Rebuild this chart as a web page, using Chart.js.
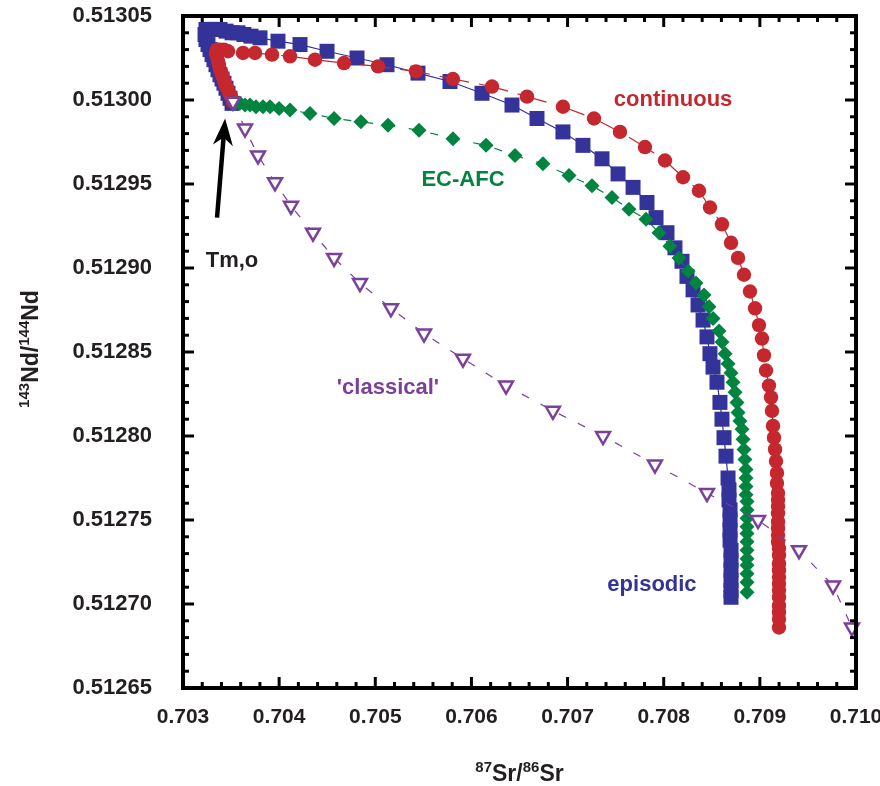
<!DOCTYPE html>
<html>
<head>
<meta charset="utf-8">
<script src="https://cdn.jsdelivr.net/npm/chart.js@4.4.1/dist/chart.umd.min.js"></script>
<style>
html,body{margin:0;padding:0;background:#ffffff;}
canvas{display:block;}
</style>
</head>
<body>
<canvas id="c" width="880" height="786"></canvas>
<script>
// ---------------- DATA ----------------
const xTickValues = [0.703, 0.704, 0.705, 0.706, 0.707, 0.708, 0.709, 0.710];
const yTickValues = [0.51265, 0.51270, 0.51275, 0.51280, 0.51285, 0.51290, 0.51295, 0.51300, 0.51305];

// continuous (red circles)
const continuousSr = [0.70352,0.70350,0.70348,0.70346,0.70344,0.70343,0.70341,0.70340,0.703385,0.703374,0.703364,0.703354,0.703343,0.703354,0.703385,0.703426,0.703468,
  0.703624,0.703749,0.703926,0.704113,0.704373,0.704675,0.705028,0.705423,0.705808,0.706214,0.706578,0.706952,0.707275,0.707545,0.707805,0.708013,0.708201,0.708367,
  0.708481,0.708606,0.708700,0.708773,0.708835,0.708897,0.708950,0.708991,0.709022,0.709043,0.709064,0.709095,0.709116,0.709126,0.709137,0.709147,0.709158,0.709168,
  0.709178,0.709178,0.709189,0.709189,0.709189,0.709189,0.709189,0.709189,0.709189,0.709189,0.709199,0.709199,0.709199,0.709199,0.709199,0.709199,0.709199,0.709199,
  0.709199,0.709199,0.709199,0.709199];
const continuousNd = [0.512999,0.513002,0.513004,0.513007,0.513009,0.513011,0.513014,0.513016,0.513018,0.513021,0.513023,0.513026,0.513028,0.513030,0.513030,0.513030,0.513029,
  0.513028,0.513028,0.513027,0.513026,0.513024,0.513022,0.513020,0.513017,0.5130125,0.513008,0.513002,0.512996,0.512989,0.512981,0.512972,0.512964,0.512954,0.512946,
  0.512936,0.512926,0.512915,0.512906,0.512896,0.512886,0.512876,0.512866,0.512858,0.512848,0.512839,0.512830,0.512823,0.512815,0.512806,0.512799,0.512792,0.512785,
  0.512778,0.512772,0.512766,0.512762,0.512758,0.512754,0.512749,0.512745,0.512741,0.512737,0.512733,0.512729,0.512724,0.512720,0.512716,0.512712,0.512708,0.512704,
  0.512699,0.512695,0.512691,0.512686];

// episodic (blue squares)
const episodicSr = [0.703510,0.703489,0.703468,0.703447,0.703426,0.703406,0.703385,0.703364,0.703343,0.703322,0.703302,0.703281,0.703260,0.703239,0.703229,0.703239,
  0.703281,0.703333,0.703385,0.703447,0.703510,0.703572,0.703634,0.703707,0.703801,0.703988,0.704217,0.704498,0.704810,0.705122,0.705444,0.705777,0.706110,0.706422,
  0.706682,0.706952,0.707160,0.707358,0.707525,0.707681,0.707826,0.707920,0.708034,0.708117,0.708190,0.708242,0.708305,0.708357,0.708409,0.708450,0.708481,0.708513,
  0.708554,0.708585,0.708606,0.708627,0.708648,0.708669,0.708679,0.708679,0.708690,0.708690,0.708690,0.708690,0.708700,0.708700,0.708700,0.708700,0.708700,0.708700];
const episodicNd = [0.512998,0.513001,0.513004,0.513007,0.513010,0.5130125,0.513015,0.513018,0.513021,0.513024,0.513027,0.513030,0.513033,0.513036,0.513039,0.513042,
  0.513042,0.513042,0.513042,0.513041,0.513040,0.513040,0.513039,0.513038,0.513037,0.513035,0.513033,0.513029,0.513025,0.513021,0.513016,0.513011,0.513004,0.512997,
  0.512989,0.512981,0.512973,0.512965,0.512956,0.512948,0.512939,0.512930,0.512921,0.512912,0.512904,0.512895,0.512887,0.512878,0.512869,0.512859,0.512849,0.512841,
  0.512832,0.512820,0.512810,0.512799,0.512788,0.512775,0.512768,0.512762,0.512756,0.512750,0.512744,0.512738,0.512732,0.512726,0.512720,0.512714,0.512708,0.512704];

// EC-AFC (green diamonds)
const ecafcSr = [0.703541,0.703593,0.703645,0.703697,0.703759,0.703832,0.703905,0.703999,0.704113,0.704321,0.704571,0.704851,0.705132,0.705455,0.705808,0.706152,
  0.706453,0.706744,0.707015,0.707254,0.707462,0.707639,0.707816,0.707951,0.708065,0.708159,0.708253,0.708336,0.708419,0.708471,0.708513,0.708575,0.708606,0.708638,
  0.708669,0.708700,0.708721,0.708742,0.708762,0.708773,0.708793,0.708814,0.708825,0.708835,0.708845,0.708856,0.708856,0.708856,0.708856,0.708866,0.708866,0.708866,
  0.708866,0.708866,0.708866,0.708866,0.708866,0.708866,0.708866,0.708866,0.708866];
const ecafcNd = [0.512998,0.512998,0.512997,0.512997,0.512996,0.512996,0.512996,0.512995,0.512994,0.512992,0.512989,0.512987,0.512985,0.512982,0.512977,0.512973,
  0.512967,0.512962,0.512955,0.512949,0.512942,0.512935,0.512929,0.512921,0.512913,0.512906,0.512898,0.512891,0.512884,0.512877,0.512870,0.5128625,0.512856,0.512849,
  0.512843,0.5128375,0.512832,0.512826,0.512820,0.512814,0.512809,0.512804,0.512798,0.512792,0.512786,0.512780,0.512775,0.512770,0.512765,0.512761,0.512756,0.512751,
  0.512746,0.512742,0.512737,0.512732,0.512727,0.512723,0.512718,0.512713,0.512707];

// 'classical' (purple open triangles)
const classicalSr = [0.703520,0.703645,0.703780,0.703957,0.704123,0.704352,0.704571,0.704841,0.705163,0.705507,0.705912,0.706360,0.706848,0.707369,0.707909,0.708450,
  0.708981,0.709407,0.709761,0.709958];
const classicalNd = [0.512999,0.512983,0.512967,0.512951,0.512937,0.512921,0.512906,0.512891,0.512876,0.512861,0.512846,0.512830,0.512815,0.512800,0.512783,0.512766,
  0.512750,0.512732,0.512711,0.512686];

// ---------------- STYLE ----------------
const FONT = '"Liberation Sans", Arial, Helvetica, sans-serif';
const TEXT = '#231f20';
const RED = '#c4282e', BLUE = '#333399', GREEN = '#00843f', PURPLE = '#7b3f9c';

const pts = (xs, ys) => xs.map((v, i) => ({x: v, y: ys[i]}));

const annotations = [
  {text: 'continuous', color: RED, x: 0.708097, y: 0.513000},
  {text: 'EC-AFC', color: GREEN, x: 0.705912, y: 0.5129524},
  {text: "'classical'", color: PURPLE, x: 0.705132, y: 0.5128286},
  {text: 'episodic', color: BLUE, x: 0.707878, y: 0.5127113},
  {text: 'Tm,o', color: TEXT, x: 0.703510, y: 0.5129040}
];
const arrow = {fromX: 0.703354, fromY: 0.512930, toX: 0.703438, toY: 0.512989};

function drawRich(ctx, parts, x, y) {
  let total = 0;
  parts.forEach(p => { ctx.font = 'bold ' + p[1] + 'px ' + FONT; total += ctx.measureText(p[0]).width; });
  let cx = x - total / 2;
  parts.forEach(p => {
    ctx.font = 'bold ' + p[1] + 'px ' + FONT;
    ctx.fillText(p[0], cx, y - p[2]);
    cx += ctx.measureText(p[0]).width;
  });
}

const decor = {
  id: 'decor',
  afterDatasetsDraw(chart) {
    const {ctx, scales: {x, y}} = chart;
    ctx.save();
    ctx.textAlign = 'center';
    ctx.textBaseline = 'middle';
    ctx.font = 'bold 22px ' + FONT;
    annotations.forEach(a => {
      ctx.fillStyle = a.color;
      ctx.fillText(a.text, x.getPixelForValue(a.x), y.getPixelForValue(a.y));
    });
    const x1 = x.getPixelForValue(arrow.fromX), y1 = y.getPixelForValue(arrow.fromY);
    const x2 = x.getPixelForValue(arrow.toX), y2 = y.getPixelForValue(arrow.toY);
    const ang = Math.atan2(y2 - y1, x2 - x1);
    const headLen = 27, headHalf = 10;
    const bx = x2 - Math.cos(ang) * headLen, by = y2 - Math.sin(ang) * headLen;
    ctx.strokeStyle = '#000'; ctx.fillStyle = '#000';
    ctx.lineWidth = 4.5;
    ctx.beginPath(); ctx.moveTo(x1, y1); ctx.lineTo(x2 - Math.cos(ang) * 12, y2 - Math.sin(ang) * 12); ctx.stroke();
    ctx.beginPath();
    ctx.moveTo(x2, y2);
    ctx.lineTo(bx + Math.sin(ang) * headHalf, by - Math.cos(ang) * headHalf);
    ctx.lineTo(x2 - Math.cos(ang) * 19, y2 - Math.sin(ang) * 19);
    ctx.lineTo(bx - Math.sin(ang) * headHalf, by + Math.cos(ang) * headHalf);
    ctx.closePath(); ctx.fill();
    ctx.restore();
  },
  afterDraw(chart) {
    const {ctx, chartArea: a, scales: {x, y}} = chart;
    ctx.save();
    ctx.strokeStyle = '#000';
    ctx.lineWidth = 3;
    ctx.lineCap = 'butt';
    const seg = (x1, y1, x2, y2) => { ctx.beginPath(); ctx.moveTo(x1, y1); ctx.lineTo(x2, y2); ctx.stroke(); };
    const xMin = xTickValues[0], yMin = yTickValues[0];
    for (let i = 0; i <= 35; i++) {
      const px = x.getPixelForValue(xMin + i * 0.0002);
      const len = i % 5 === 0 ? 11 : 6;
      seg(px, a.bottom, px, a.bottom - len);
      seg(px, a.top, px, a.top + len);
    }
    for (let i = 0; i <= 40; i++) {
      const py = y.getPixelForValue(yMin + i * 0.00001);
      const len = i % 5 === 0 ? 11 : 6;
      seg(a.left, py, a.left + len, py);
      seg(a.right, py, a.right - len, py);
    }
    ctx.lineWidth = 4;
    ctx.strokeRect(a.left, a.top, a.right - a.left, a.bottom - a.top);

    ctx.fillStyle = TEXT;
    ctx.textAlign = 'left';
    ctx.textBaseline = 'alphabetic';
    drawRich(ctx, [['87', 15, 9], ['Sr/', 23, 0], ['86', 15, 9], ['Sr', 23, 0]], (a.left + a.right) / 2, 781);
    ctx.save();
    ctx.translate(38, 349);
    ctx.rotate(-Math.PI / 2);
    drawRich(ctx, [['143', 15, 9], ['Nd/', 23, 0], ['144', 15, 9], ['Nd', 23, 0]], 0, 0);
    ctx.restore();
    ctx.restore();
  }
};

Chart.defaults.font.family = FONT;
Chart.defaults.color = TEXT;

new Chart(document.getElementById('c'), {
  type: 'scatter',
  data: {
    datasets: [
      {label: "'classical'", data: pts(classicalSr, classicalNd), order: 0, showLine: true,
       borderColor: PURPLE, borderWidth: 1.2, borderDash: [8, 13],
       pointStyle: 'triangle', rotation: 180, pointRadius: 8, pointBorderWidth: 2.5,
       pointBorderColor: PURPLE, pointBackgroundColor: '#ffffff', clip: false},
      {label: 'EC-AFC', data: pts(ecafcSr, ecafcNd), order: 1, showLine: true,
       borderColor: GREEN, borderWidth: 1.2, borderDash: [8, 14],
       pointStyle: 'rectRot', pointRadius: 7.5, pointBorderWidth: 0,
       pointBackgroundColor: GREEN, pointBorderColor: GREEN, clip: false},
      {label: 'continuous', data: pts(continuousSr, continuousNd), order: 2, showLine: true,
       borderColor: RED, borderWidth: 1.2, borderDash: [30, 10],
       pointStyle: 'circle', pointRadius: 7.2, pointBorderWidth: 0,
       pointBackgroundColor: RED, pointBorderColor: RED, clip: false},
      {label: 'episodic', data: pts(episodicSr, episodicNd), order: 3, showLine: true,
       borderColor: BLUE, borderWidth: 1.2,
       pointStyle: 'rect', pointRadius: 10.6, pointBorderWidth: 0,
       pointBackgroundColor: BLUE, pointBorderColor: BLUE, clip: false}
    ]
  },
  options: {
    responsive: false,
    animation: false,
    devicePixelRatio: 1,
    layout: {padding: {top: 16, right: 24, left: 0, bottom: 0}},
    plugins: {legend: {display: false}, tooltip: {enabled: false}},
    scales: {
      x: {
        type: 'linear', position: 'bottom',
        min: xTickValues[0], max: xTickValues[xTickValues.length - 1],
        grid: {display: false, drawTicks: false}, border: {display: false},
        ticks: {stepSize: 0.001, autoSkip: false, maxRotation: 0, padding: 17,
                font: {size: 21, weight: 'bold'}, color: TEXT,
                callback: v => Number(v).toFixed(3)},
        afterFit(s) { s.height = 98; s.paddingLeft = 0; s.paddingRight = 0; }
      },
      y: {
        type: 'linear', position: 'left',
        min: yTickValues[0], max: yTickValues[yTickValues.length - 1],
        grid: {display: false, drawTicks: false}, border: {display: false},
        ticks: {stepSize: 0.00005, autoSkip: false, padding: 31,
                font: {size: 22, weight: 'bold'}, color: TEXT,
                callback: v => Number(v).toFixed(5)},
        afterFit(s) { s.width = 183; s.paddingTop = 0; s.paddingBottom = 0; }
      }
    }
  },
  plugins: [decor]
});
</script>
</body>
</html>
